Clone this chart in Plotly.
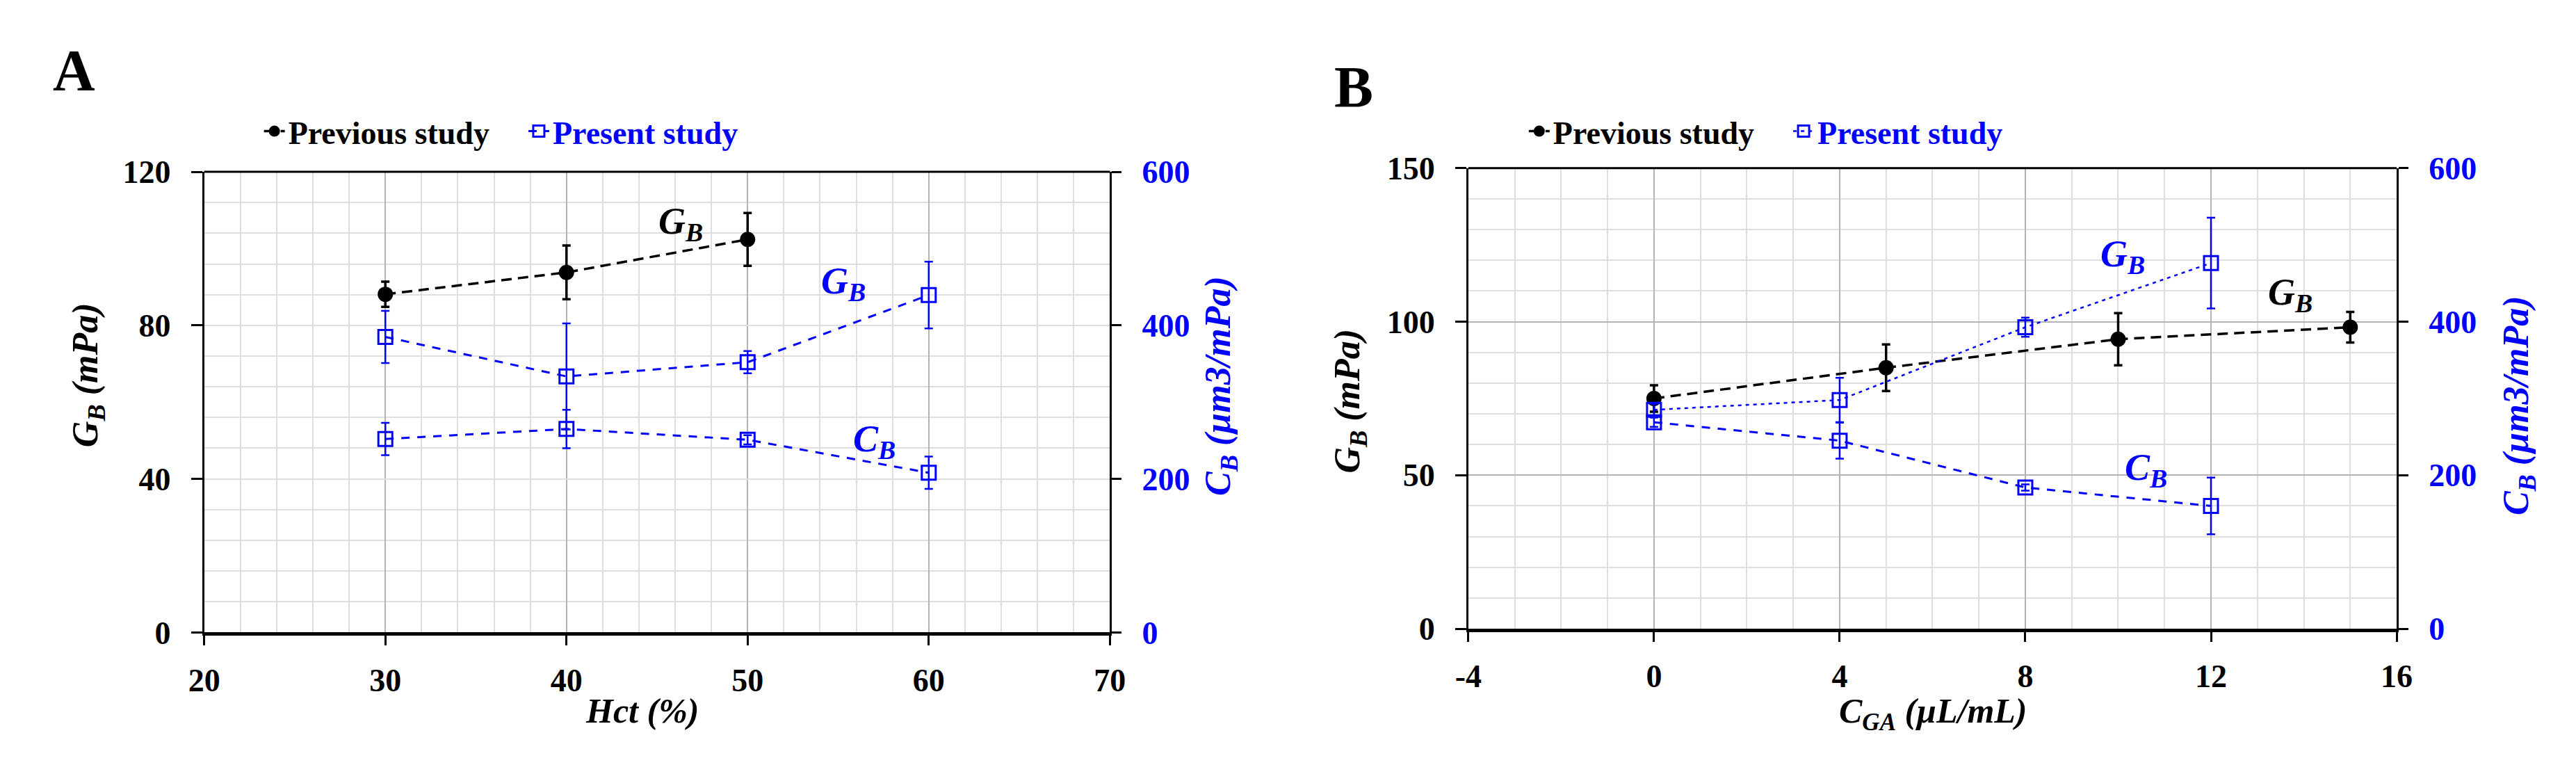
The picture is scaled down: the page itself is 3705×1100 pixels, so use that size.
import plotly.graph_objects as go

W, H = 3705, 1100

# ---------------- Data: panel A (Hct) ----------------
hct_prev = [30, 40, 50]
gb_prev_a = [88.1, 93.8, 102.4]
gb_prev_a_err = [3.3, 7.0, 6.9]

hct_pres = [30, 40, 50, 60]
gb_pres_a = [77.0, 66.7, 70.4, 87.9]
gb_pres_a_err = [6.8, 13.8, 2.9, 8.7]
cb_pres_a = [252, 265, 251, 208]
cb_pres_a_err = [21, 25, 6, 21]

# ---------------- Data: panel B (C_GA) ----------------
cga_prev = [0, 5, 10, 15]
gb_prev_b = [75.0, 85.0, 94.3, 98.2]
gb_prev_b_err = [4.3, 7.6, 8.5, 5.0]

cga_pres = [0, 4, 8, 12]
gb_pres_b = [71.3, 74.5, 98.2, 119.1]
gb_pres_b_err = [2.0, 7.2, 3.1, 14.8]
cb_pres_b = [269, 245, 184, 160]
cb_pres_b_err = [6, 23.5, 4, 37]

# tick labels of panel B x axis (plain hyphen minus as in the original)
cga_tickvals = [-4, 0, 4, 8, 12, 16]
cga_ticktext = ["-4", "0", "4", "8", "12", "16"]

BLUE = "#0000ff"
BLACK = "#000000"
SERIF = "Liberation Serif"
NB = "\u00a0"


def px(x):
    return x / W


def py(y):
    return 1 - y / H


fig = go.Figure()


def black_trace(x, y, e, xa, ya, leg):
    return go.Scatter(
        x=x, y=y, xaxis=xa, yaxis=ya, mode="lines+markers",
        name="Previous study" + NB * 4, legend=leg,
        line=dict(color=BLACK, width=3.5, dash="15px,9px"),
        marker=dict(symbol="circle", size=22, color=BLACK),
        error_y=dict(type="data", array=e, color=BLACK, thickness=3.5, width=6),
    )


def blue_trace(x, y, e, xa, ya, leg, show, dash="12px,11px", lw=3):
    return go.Scatter(
        x=x, y=y, xaxis=xa, yaxis=ya, mode="lines+markers",
        name='<span style="color:#0000ff">Present study</span>', legend=leg,
        showlegend=show,
        line=dict(color=BLUE, width=lw, dash=dash),
        marker=dict(symbol="square-open", size=20, color=BLUE, line=dict(width=3, color=BLUE)),
        error_y=dict(type="data", array=e, color=BLUE, thickness=2.5, width=6),
    )


# Panel A
fig.add_trace(black_trace(hct_prev, gb_prev_a, gb_prev_a_err, "x", "y", "legend"))
fig.add_trace(blue_trace(hct_pres, gb_pres_a, gb_pres_a_err, "x", "y", "legend", True))
fig.add_trace(blue_trace(hct_pres, cb_pres_a, cb_pres_a_err, "x", "y2", "legend", False))

# Panel B
fig.add_trace(black_trace(cga_prev, gb_prev_b, gb_prev_b_err, "x2", "y3", "legend2"))
fig.add_trace(blue_trace(cga_pres, gb_pres_b, gb_pres_b_err, "x2", "y3", "legend2", True,
                         dash="5px,6px", lw=2.5))
fig.add_trace(blue_trace(cga_pres, cb_pres_b, cb_pres_b_err, "x2", "y4", "legend2", False))

FS = 46
tickfont_k = dict(family=SERIF, size=FS, color=BLACK, weight="bold")
tickfont_b = dict(family=SERIF, size=FS, color=BLUE, weight="bold")

domA_x = [px(266), px(1585)]
domA_y = [py(919), py(224.5)]
domB_x = [px(2107), px(3459)]
domB_y = [py(913.4), py(219)]


def xax(dom, anchor, rng, dtick, mdtick, major_col):
    return dict(
        domain=dom, anchor=anchor, range=rng, dtick=dtick, tick0=rng[0],
        showline=True, linecolor=BLACK, linewidth=5,
        ticks="outside", ticklen=14, tickwidth=3, tickcolor=BLACK,
        tickfont=tickfont_k, ticklabelstandoff=10,
        showgrid=True, gridcolor=major_col, gridwidth=1.5,
        zeroline=False,
        minor=dict(dtick=mdtick, showgrid=True, gridcolor="#dedede", gridwidth=1.5, ticks=""),
    )


def yax_left(dom, anchor, rng, dtick, mdtick, major_col):
    return dict(
        domain=dom, anchor=anchor, range=rng, dtick=dtick, tick0=0,
        showline=True, linecolor=BLACK, linewidth=3,
        ticks="outside", ticklen=16, tickwidth=3, tickcolor=BLACK,
        tickfont=tickfont_k, ticklabelstandoff=20,
        showgrid=True, gridcolor=major_col, gridwidth=1.5,
        zeroline=False,
        minor=dict(dtick=mdtick, showgrid=True, gridcolor="#dedede", gridwidth=1.5, ticks=""),
    )


def yax_right(over, anchor, rng, dtick):
    return dict(
        overlaying=over, anchor=anchor, side="right", range=rng, dtick=dtick, tick0=0,
        showline=True, linecolor=BLACK, linewidth=3,
        ticks="outside", ticklen=14, tickwidth=3, tickcolor=BLACK,
        tickfont=tickfont_b, ticklabelstandoff=20,
        showgrid=False, zeroline=False,
    )


xaxis2 = xax(domB_x, "y3", [-4, 16], 4, 1, "#b4b4b4")
xaxis2.update(tickmode="array", tickvals=cga_tickvals, ticktext=cga_ticktext)

legend_common = dict(orientation="h", xanchor="left", yanchor="top",
                     font=dict(family=SERIF, size=FS, color=BLACK, weight="bold"),
                     bgcolor="rgba(0,0,0,0)", itemwidth=30, tracegroupgap=0)

fig.update_layout(
    width=W, height=H, autosize=False,
    margin=dict(l=0, r=0, t=0, b=0),
    paper_bgcolor="white", plot_bgcolor="white",
    xaxis=xax(domA_x, "y", [20, 70], 10, 2, "#b4b4b4"),
    yaxis=yax_left(domA_y, "x", [0, 120], 40, 8, "#dedede"),
    yaxis2=yax_right("y", "x", [0, 600], 200),
    xaxis2=xaxis2,
    yaxis3=yax_left(domB_y, "x2", [0, 150], 50, 10, "#b4b4b4"),
    yaxis4=yax_right("y3", "x2", [0, 600], 200),
    legend=dict(x=px(348), y=py(125), **legend_common),
    legend2=dict(x=px(2190), y=py(125), **legend_common),
    showlegend=True,
)

# top border lines of both panels
for xr, yr in (("x domain", "y domain"), ("x2 domain", "y3 domain")):
    fig.add_shape(type="line", xref=xr, yref=yr, x0=0, x1=1, y0=1, y1=1,
                  line=dict(color=BLACK, width=3), layer="above")


def ann_font(c, s=52):
    return dict(family=SERIF, size=s, color=c)


annots = [
    # panel letters
    dict(text="<b>A</b>", x=px(76), y=py(72), font=ann_font(BLACK, 84)),
    dict(text="<b>B</b>", x=px(1940), y=py(97), font=ann_font(BLACK, 84)),
    # axis titles panel A
    dict(text="<b><i>G<sub>B</sub> (mPa)</i></b>", x=px(97), y=py(531), textangle=-90,
         font=ann_font(BLACK)),
    dict(text="<b><i>C<sub>B</sub> (µm3/mPa)</i></b>", x=px(1746), y=py(547), textangle=-90,
         font=ann_font(BLUE)),
    # axis titles panel B
    dict(text="<b><i>G<sub>B</sub> (mPa)</i></b>", x=px(1935), y=py(570), textangle=-90,
         font=ann_font(BLACK)),
    dict(text="<b><i>C<sub>B</sub> (µm3/mPa)</i></b>", x=px(3636), y=py(577), textangle=-90,
         font=ann_font(BLUE)),
]
for a in annots:
    fig.add_annotation(xref="paper", yref="paper", showarrow=False,
                       xanchor="center", yanchor="middle", **a)

# x axis titles (anchored at their top, below the tick labels)
for text, x in (("<b><i>Hct (%)</i></b>", 904),
                ("<b><i>C<sub>GA</sub> (µL/mL)</i></b>", 2784)):
    fig.add_annotation(xref="paper", yref="paper", showarrow=False, text=text,
                       x=px(x), y=py(1006), xanchor="center", yanchor="top",
                       font=ann_font(BLACK, 50))

# curve labels (data coordinates)
curve_labels = [
    ("x", "y", 46.3, 106.6, "G", "B", BLACK),
    ("x", "y", 55.3, 90.9, "G", "B", BLUE),
    ("x", "y", 57.0, 49.8, "C", "B", BLUE),
    ("x2", "y3", 10.1, 121.3, "G", "B", BLUE),
    ("x2", "y3", 13.7, 108.9, "G", "B", BLACK),
    ("x2", "y3", 10.6, 51.7, "C", "B", BLUE),
]
for xr, yr, x, y, m, s, c in curve_labels:
    fig.add_annotation(xref=xr, yref=yr, x=x, y=y, showarrow=False,
                       text=f"<b><i>{m}<sub>{s}</sub></i></b>",
                       font=ann_font(c, 54), xanchor="center", yanchor="middle")

fig.write_html("out.html")
